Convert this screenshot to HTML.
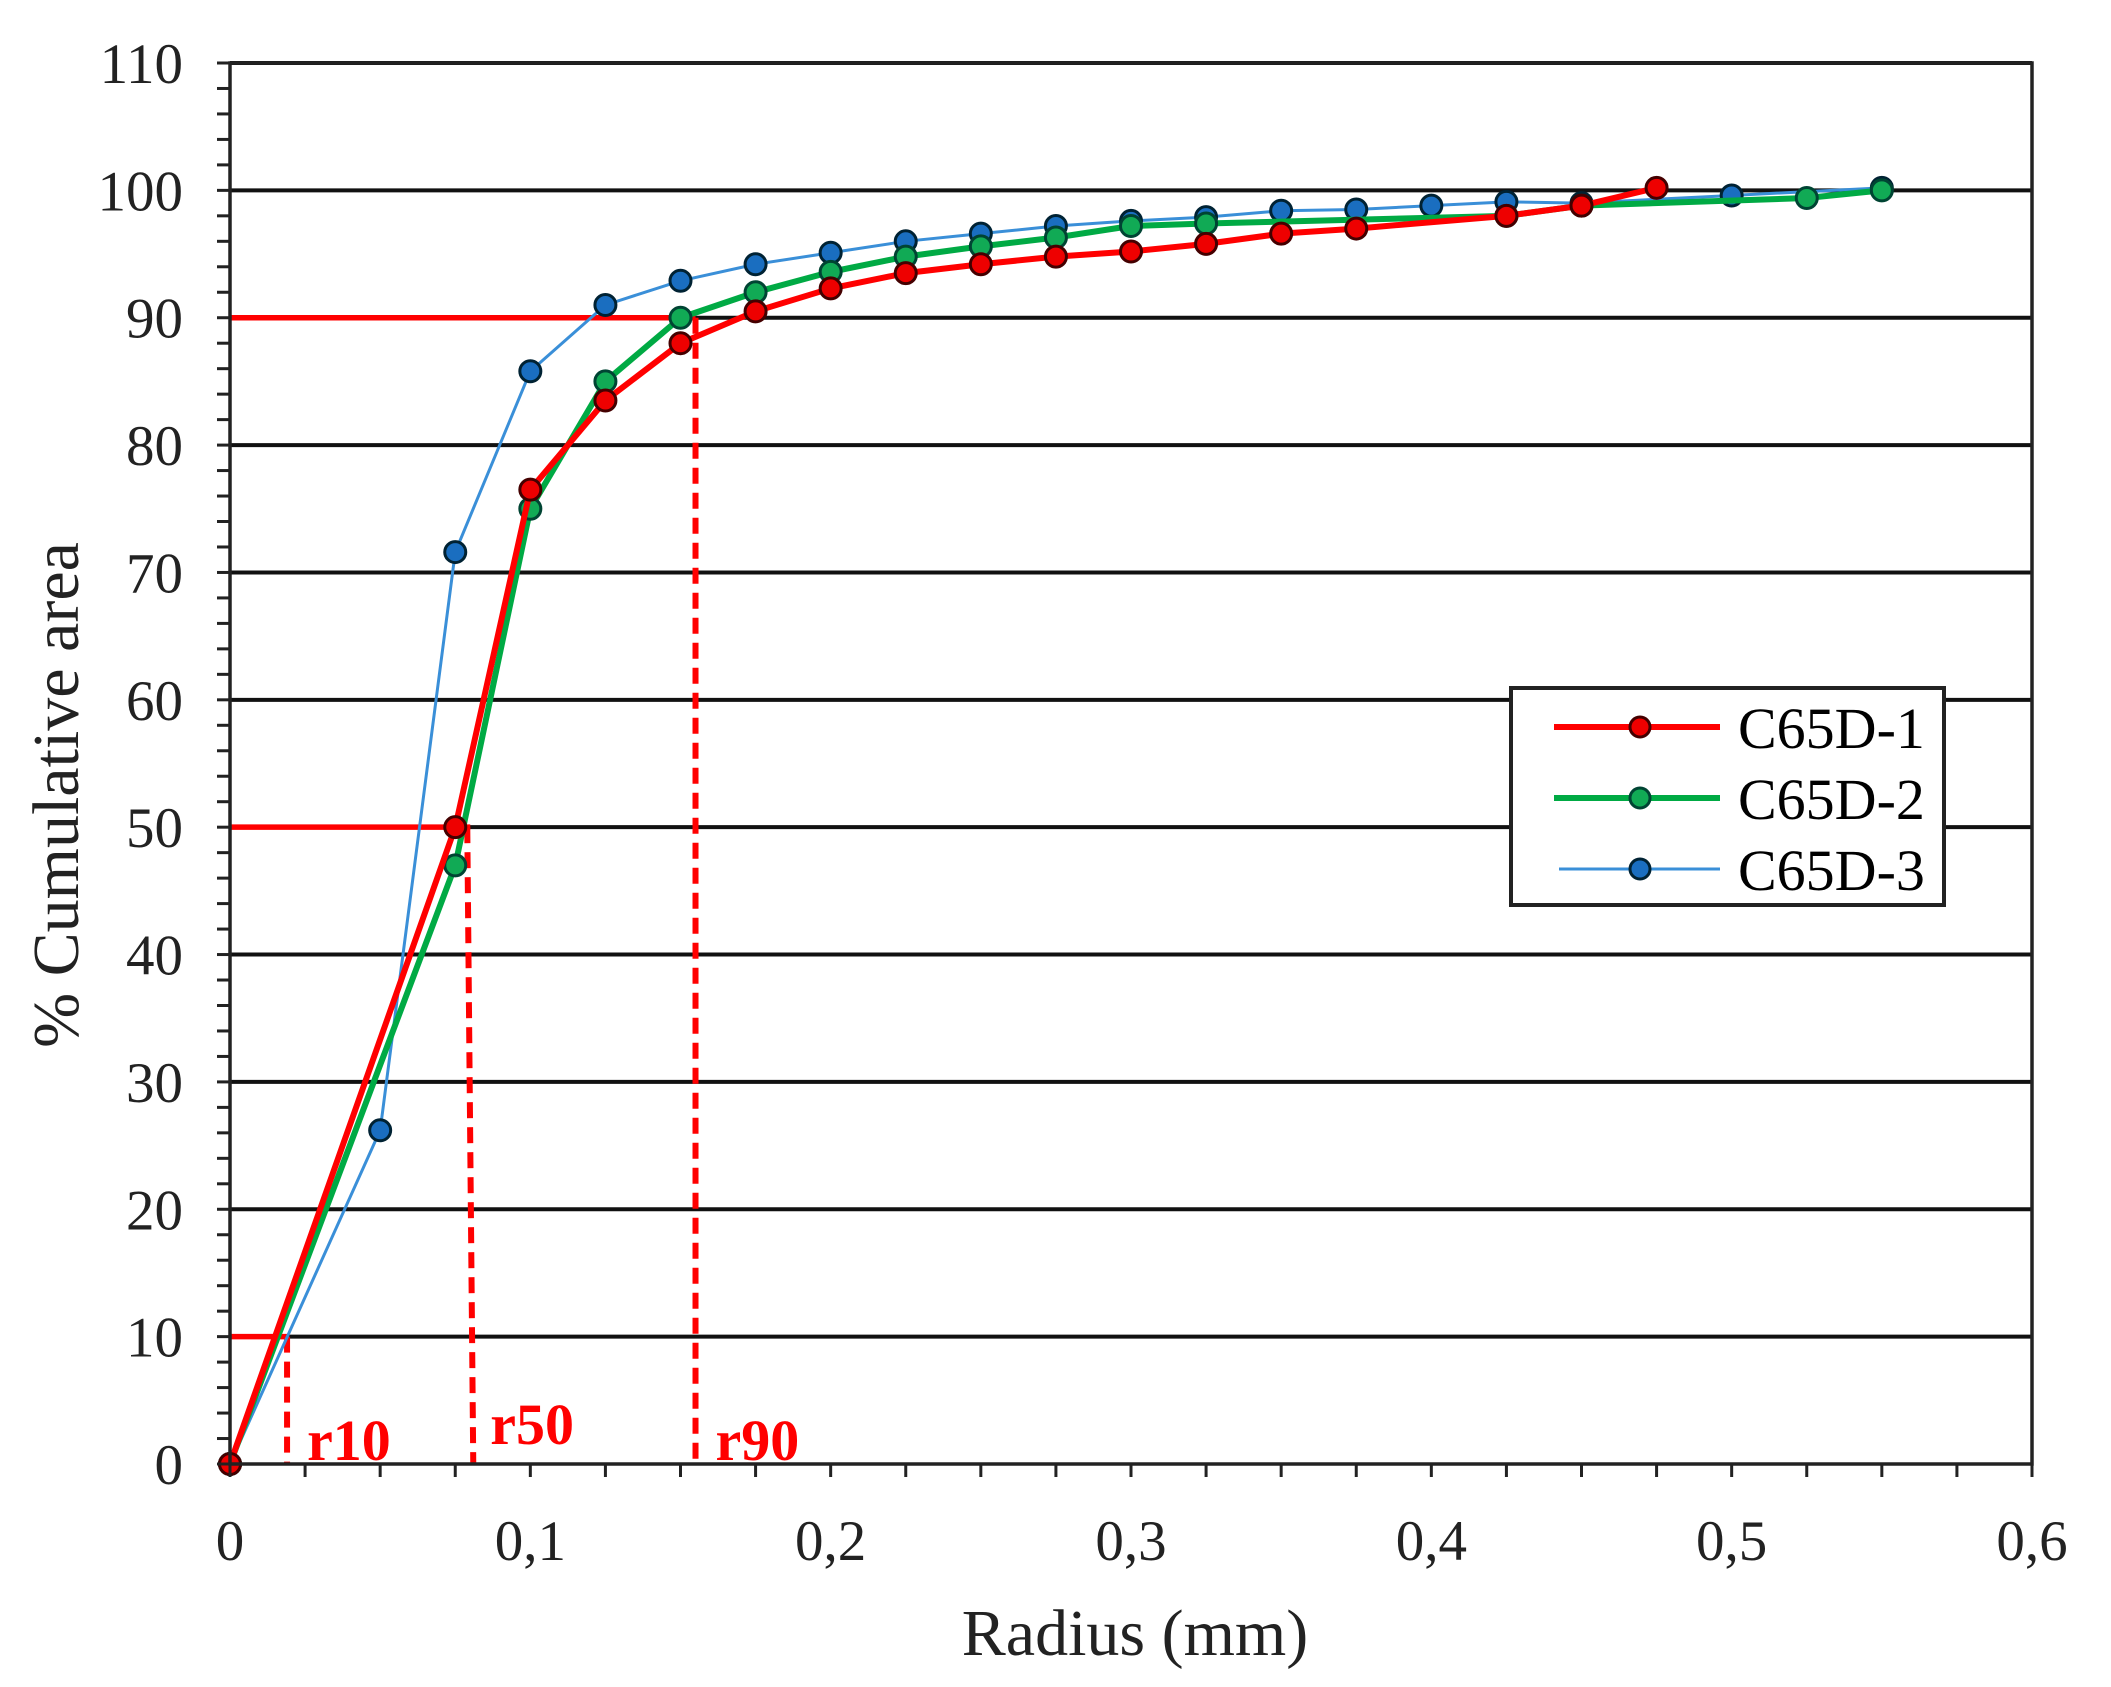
<!DOCTYPE html>
<html><head><meta charset="utf-8"><style>
html,body{margin:0;padding:0;background:#fff;}
svg{display:block;font-family:"Liberation Serif",serif;}
</style></head><body>
<svg id="chart" width="2111" height="1687" viewBox="0 0 2111 1687" xmlns="http://www.w3.org/2000/svg">
<rect width="2111" height="1687" fill="#fff"/>
<g id="grid"></g><g id="refs"></g><g id="series"></g><g id="axes"></g>
<g>
<rect x="1511" y="688" width="433" height="217" fill="#fff" stroke="#222" stroke-width="4"/>
<g><line x1="1554" y1="727" x2="1720" y2="727" stroke="#f00" stroke-width="6"/><circle cx="1640" cy="727" r="10" fill="#e00" stroke="#400" stroke-width="3"/><text x="1738" y="748" font-size="58">C65D-1</text></g>
<g><line x1="1554" y1="798" x2="1720" y2="798" stroke="#0a4" stroke-width="6"/><circle cx="1640" cy="798" r="10" fill="#1a5" stroke="#043" stroke-width="3"/><text x="1738" y="819" font-size="58">C65D-2</text></g>
<g><line x1="1559" y1="869" x2="1720" y2="869" stroke="#3a8fd8" stroke-width="3"/><circle cx="1640" cy="869" r="10" fill="#1a6ec0" stroke="#023" stroke-width="3"/><text x="1738" y="890" font-size="58">C65D-3</text></g>
</g>
<text transform="translate(78,795) rotate(-90)" text-anchor="middle" font-size="66" fill="#222">% Cumulative area</text>
<text x="1135" y="1655" text-anchor="middle" font-size="66" fill="#222">Radius (mm)</text>
</svg>
<script>
const xs1=[0,0.075,0.1,0.125,0.15,0.175,0.2,0.225,0.25,0.275,0.3,0.325,0.35,0.375,0.425,0.45,0.475];
const ys1=[0,50,76.5,83.5,88,90.5,92.3,93.5,94.2,94.8,95.2,95.8,96.6,97,98,98.8,100.2];
const xs2=[0,0.075,0.1,0.125,0.15,0.175,0.2,0.225,0.25,0.275,0.3,0.325,0.425,0.45,0.525,0.55];
const ys2=[0,47,75,85,90,92,93.6,94.8,95.6,96.3,97.2,97.4,98,98.8,99.4,100];
const xs3=[0,0.05,0.075,0.1,0.125,0.15,0.175,0.2,0.225,0.25,0.275,0.3,0.325,0.35,0.375,0.4,0.425,0.45,0.5,0.55];
const ys3=[0,26.2,71.6,85.8,91,92.9,94.2,95.1,96,96.6,97.2,97.6,97.9,98.4,98.5,98.8,99.1,99,99.6,100.2];
const yTicks=[0,10,20,30,40,50,60,70,80,90,100,110];
const xTicks=[0,0.1,0.2,0.3,0.4,0.5,0.6];
const xTickLabels=["0","0,1","0,2","0,3","0,4","0,5","0,6"];
const refY=[10,50,90];
const refX=[0.019,0.08,0.155];
const refLabels=["r10","r50","r90"];
const L=230,R=2032,T=63,B=1464;
const X=v=>L+(v/0.6)*(R-L), Y=v=>B-(v/110)*(B-T);
const NS="http://www.w3.org/2000/svg";
function mk(tag,attrs,parent){const e=document.createElementNS(NS,tag);for(const k in attrs)e.setAttribute(k,attrs[k]);parent.appendChild(e);return e;}
const grid=document.getElementById('grid'),axes=document.getElementById('axes'),refs=document.getElementById('refs'),ser=document.getElementById('series');
yTicks.forEach(v=>{if(v>0){const g=mk('line',{x1:L,x2:R,y1:Y(v),y2:Y(v),stroke:'#111','stroke-width':4},grid);

}
const t=mk('text',{x:183,y:Y(v)+20,'text-anchor':'end','font-size':57,fill:'#222'},axes);t.textContent=v;

});
for(let v=0;v<=110;v+=2){mk('line',{x1:L-13,x2:L,y1:Y(v),y2:Y(v),stroke:'#222','stroke-width':3},axes);}
for(let i=0;i<=24;i++){const v=i*0.025;mk('line',{x1:X(v),x2:X(v),y1:B,y2:B+13,stroke:'#222','stroke-width':3},axes);}
xTicks.forEach((v,i)=>{const t=mk('text',{x:X(v),y:1560,'text-anchor':'middle','font-size':57,fill:'#222'},axes);t.textContent=xTickLabels[i];

});
const fr=mk('rect',{x:L,y:T,width:R-L,height:B-T,fill:'none',stroke:'#222','stroke-width':3.5},axes);


refY.forEach((v,i)=>{const h=mk('line',{x1:L,x2:X(refX[i]),y1:Y(v),y2:Y(v),stroke:'#f00','stroke-width':5.5},refs);


const d=mk('line',{x1:X(refX[i])-(i==1?3:0),x2:X(refX[i])+(i==1?3:0),y1:Y(v),y2:B,stroke:'#f00','stroke-width':6,'stroke-dasharray':'16 9'},refs);


const t=mk('text',{x:X(refX[i])+20,y:i==1?1444:1460,'font-size':58,'font-weight':'bold',fill:'#f00'},refs);t.textContent=refLabels[i];

});
function series(xs,ys,col,w,fill,stroke,name){
const g=mk('g',{},ser);


mk('polyline',{points:xs.map((x,i)=>X(x)+','+Y(ys[i])).join(' '),fill:'none',stroke:col,'stroke-width':w,'stroke-linejoin':'round'},g);
xs.forEach((x,i)=>{const c=mk('circle',{cx:X(x),cy:Y(ys[i]),r:10.5,fill:fill,stroke:stroke,'stroke-width':3},g);

});}
series(xs3,ys3,'#3a8fd8',3,'#1a6ec0','#023','c65d-3');
series(xs2,ys2,'#0a4',6,'#1a5','#043','c65d-2');
series(xs1,ys1,'#f00',6,'#e00','#400','c65d-1');
</script>
</body></html>
